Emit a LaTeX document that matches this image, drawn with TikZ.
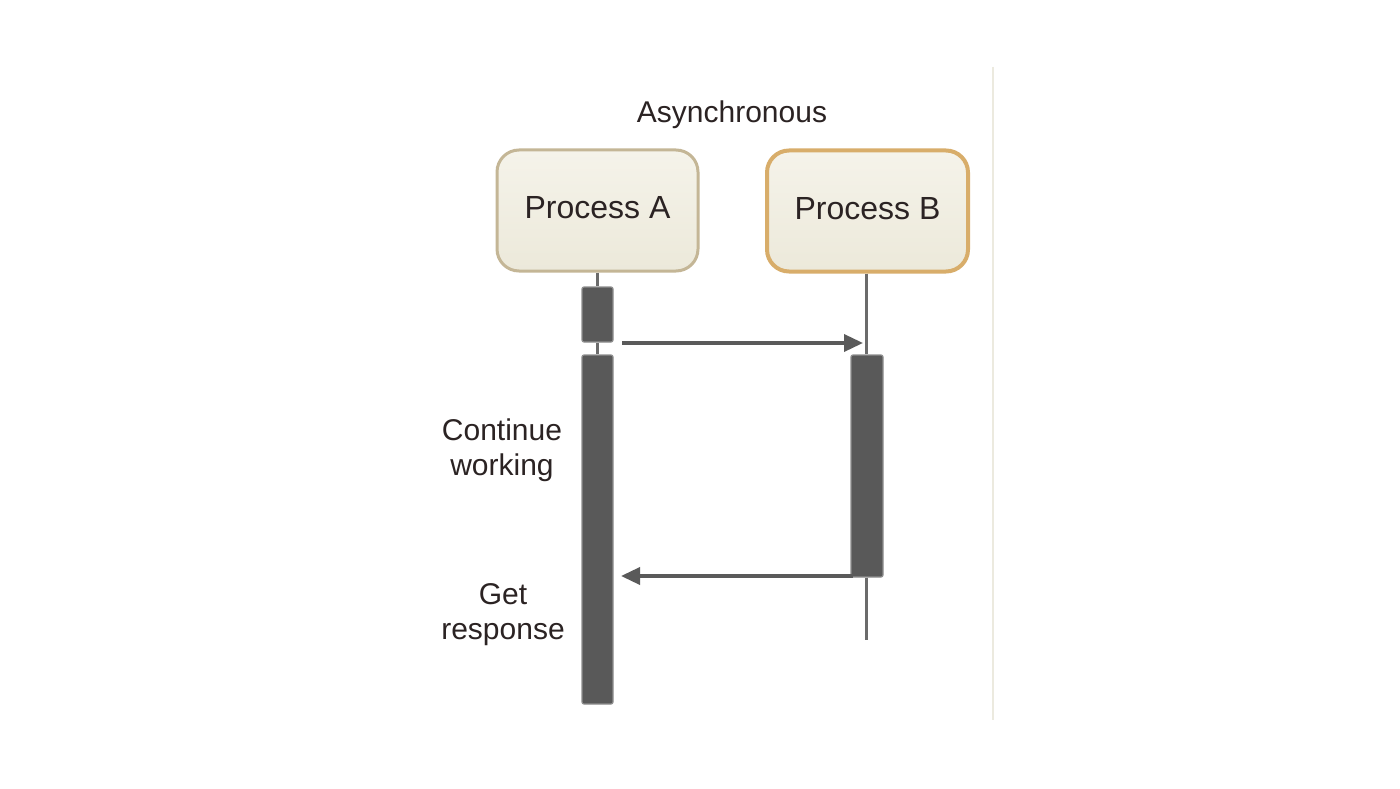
\documentclass[tikz,border=0pt]{standalone}
\usepackage{fontspec}
\setmainfont{Liberation Sans}
\usetikzlibrary{arrows.meta,calc}
\definecolor{txt}{HTML}{2B2323}
\definecolor{boxfillT}{HTML}{F5F3EA}
\definecolor{boxfillB}{HTML}{ECE9DA}
\definecolor{borderA}{HTML}{C4B696}
\definecolor{borderB}{HTML}{D8AD6A}
\definecolor{bar}{HTML}{595959}
\definecolor{barEdge}{HTML}{8E8E8E}
\definecolor{arr}{HTML}{5A5A5A}
\definecolor{faint}{HTML}{ECEADF}
\tikzset{
  procbox/.style={rounded corners=22pt, minimum width=201pt, minimum height=121pt,
    top color=boxfillT, bottom color=boxfillB, text=txt, inner sep=0pt,
    font=\fontsize{32}{38}\selectfont},
  actbar/.style={draw=barEdge, fill=bar, line width=1.2pt, rounded corners=2pt,
    minimum width=31pt, inner sep=0pt},
  lifeline/.style={draw=arr!90, line width=3pt},
  msg/.style={draw=arr, line width=3.5pt, -{Triangle[length=19pt,width=17pt]}},
  lbl/.style={text=txt, align=center, font=\fontsize{30}{35}\selectfont, inner sep=0pt}
}
\begin{document}
\begin{tikzpicture}[x=1pt,y=-1pt]
\fill[white] (0,0) rectangle (1400,789);
\useasboundingbox (0,0) rectangle (1400,789);
% faint frame line
\draw[faint, line width=2pt] (993,67) -- (993,720);
% title
\node[lbl] (title) at (732,115) {Asynchronous};
% processes
\node[procbox, draw=borderA, line width=3pt] (A) at (597.5,210.5) {\raisebox{6pt}{Process A}};
\node[procbox, draw=borderB, line width=4pt] (B) at (867.5,211) {\raisebox{6pt}{Process B}};
% activation bars
\node[actbar, minimum height=55pt] (A1) at (597.5,314.5) {};
\node[actbar, minimum height=349pt] (A2) at (597.5,529.5) {};
\node[actbar, minimum width=32pt, minimum height=222pt] (B1) at (867,466) {};
\coordinate (Bend) at (866,640);
% lifelines
\draw[lifeline] (A.south) -- (A1.north);
\draw[lifeline] (A1.south) -- (A2.north);
\draw[lifeline] (B.south -| Bend) -- (B1.north -| Bend);
\draw[lifeline] (B1.south -| Bend) -- (Bend);
% messages
\coordinate (m1s) at (622,343);
\coordinate (m1e) at (863,343);
\draw[msg] (m1s) -- (m1e);
\coordinate (m2s) at (853,576);
\coordinate (m2e) at (621,576);
\draw[msg] (m2s) -- (m2e);
% labels
\node[lbl] (cw) at (502,450) {Continue\\working};
\node[lbl] (gr) at (503,615) {Get\\response};
\end{tikzpicture}
\end{document}
